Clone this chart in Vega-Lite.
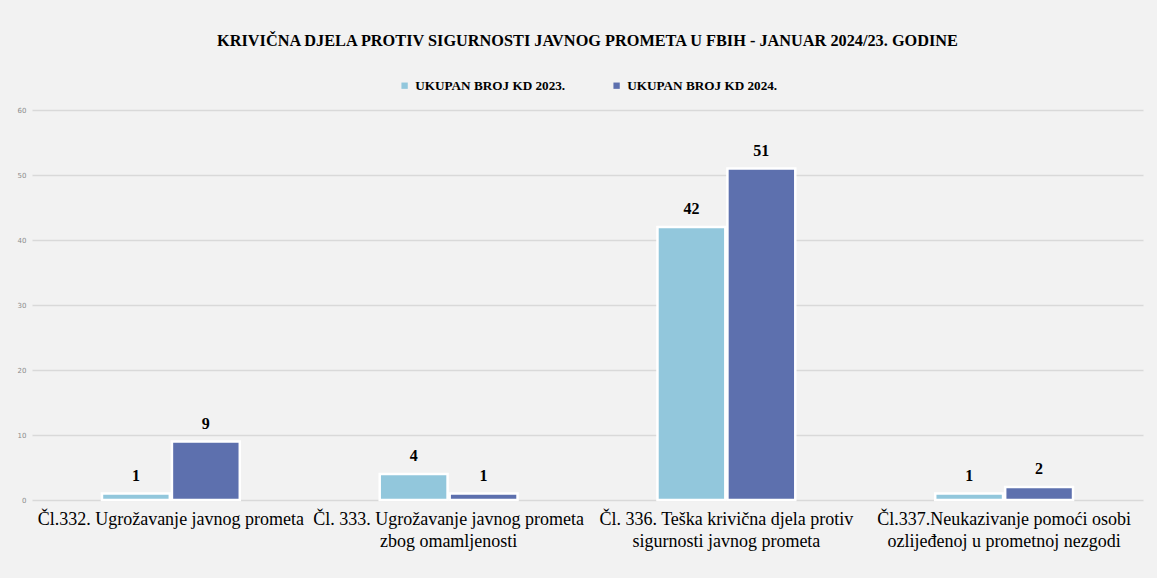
{
  "$schema": "https://vega.github.io/schema/vega-lite/v6.json",
  "autosize": {"type": "none"},
  "width": 1111,
  "height": 390,
  "padding": {"left": 32, "top": 110, "right": 14, "bottom": 78},
  "background": "#f2f2f2",
  "title": {
    "text": "KRIVIČNA DJELA PROTIV SIGURNOSTI JAVNOG PROMETA U FBIH - JANUAR 2024/23. GODINE",
    "font": "Liberation Serif",
    "fontSize": 16.3,
    "fontWeight": "bold",
    "color": "#000000",
    "anchor": "middle",
    "offset": 30
  },
  "data": {
    "values": [
      {"kat": "Čl.332. Ugrožavanje javnog prometa", "serija": "UKUPAN BROJ KD 2023.", "broj": 1},
      {"kat": "Čl.332. Ugrožavanje javnog prometa", "serija": "UKUPAN BROJ KD 2024.", "broj": 9},
      {"kat": "Čl. 333. Ugrožavanje javnog prometa|zbog omamljenosti", "serija": "UKUPAN BROJ KD 2023.", "broj": 4},
      {"kat": "Čl. 333. Ugrožavanje javnog prometa|zbog omamljenosti", "serija": "UKUPAN BROJ KD 2024.", "broj": 1},
      {"kat": "Čl. 336. Teška krivična djela protiv|sigurnosti javnog prometa", "serija": "UKUPAN BROJ KD 2023.", "broj": 42},
      {"kat": "Čl. 336. Teška krivična djela protiv|sigurnosti javnog prometa", "serija": "UKUPAN BROJ KD 2024.", "broj": 51},
      {"kat": "Čl.337.Neukazivanje pomoći osobi|ozlijeđenoj u prometnoj nezgodi", "serija": "UKUPAN BROJ KD 2023.", "broj": 1},
      {"kat": "Čl.337.Neukazivanje pomoći osobi|ozlijeđenoj u prometnoj nezgodi", "serija": "UKUPAN BROJ KD 2024.", "broj": 2}
    ]
  },
  "encoding": {
    "x": {
      "field": "kat",
      "type": "nominal",
      "sort": null,
      "title": null,
      "scale": {"paddingInner": 0, "paddingOuter": 0},
      "axis": {
        "labelExpr": "split(datum.label, '|')",
        "labelAngle": 0,
        "labelFont": "Liberation Serif",
        "labelFontSize": 18,
        "labelColor": "#000000",
        "labelLimit": 400,
        "labelPadding": 10,
        "labelLineHeight": 22,
        "domain": false,
        "ticks": false
      }
    },
    "xOffset": {
      "field": "serija",
      "type": "nominal",
      "scale": {"paddingInner": 0.03, "paddingOuter": 1.0}
    },
    "y": {
      "field": "broj",
      "type": "quantitative",
      "title": null,
      "scale": {"domain": [0, 60]},
      "axis": {
        "values": [0, 10, 20, 30, 40, 50, 60],
        "labelFont": "DejaVu Sans",
        "labelFontSize": 7,
        "labelColor": "#8c8c8c",
        "labelPadding": 6,
        "domain": false,
        "ticks": false,
        "gridColor": "#d9d9d9",
        "gridWidth": 1.5
      }
    }
  },
  "layer": [
    {
      "mark": {"type": "bar", "stroke": "#ffffff", "strokeWidth": 2.5},
      "encoding": {
        "color": {
          "field": "serija",
          "type": "nominal",
          "scale": {"domain": ["UKUPAN BROJ KD 2023.", "UKUPAN BROJ KD 2024."], "range": ["#92c7dc", "#5d70ae"]},
          "legend": {
            "title": null,
            "orient": "top",
            "direction": "horizontal",
            "symbolType": "square",
            "symbolSize": 40,
            "symbolStrokeWidth": 0,
            "labelFont": "Liberation Serif",
            "labelFontSize": 13.2,
            "labelFontWeight": "bold",
            "labelColor": "#000000",
            "columnPadding": 44,
            "offset": 18
          }
        }
      }
    },
    {
      "mark": {"type": "text", "dy": -18, "font": "Liberation Serif", "fontSize": 16, "fontWeight": "bold", "color": "#000000"},
      "encoding": {
        "text": {"field": "broj", "type": "quantitative"}
      }
    }
  ],
  "config": {
    "view": {"stroke": null},
    "legend": {"layout": {"top": {"anchor": "middle"}}}
  }
}
